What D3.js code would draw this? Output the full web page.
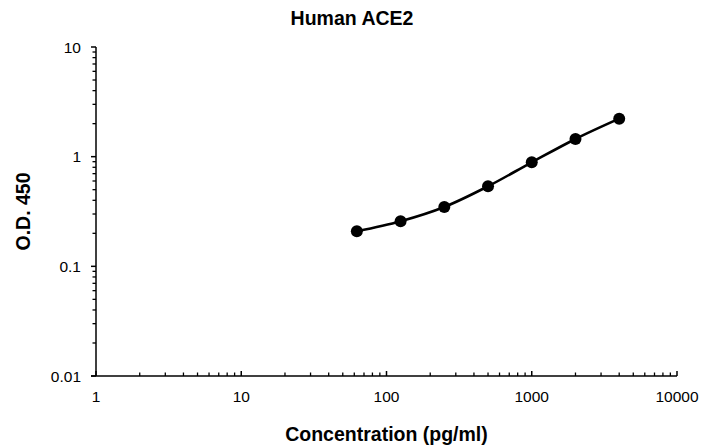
<!DOCTYPE html>
<html>
<head>
<meta charset="utf-8">
<script src="https://cdn.jsdelivr.net/npm/d3@7"></script>
<style>
    body { margin: 0; background: #fff; }
    text { font-family: "Liberation Sans", Arial, sans-serif; }
</style>
</head>
<body>
<svg id="chart" width="701" height="447"></svg>
<script>
// standard curve data
let concentrations = [62.5, 125, 250, 500, 1000, 2000, 4000];
let odValues = [0.209, 0.258, 0.348, 0.537, 0.889, 1.45, 2.22];
let xTickLabels = [1, 10, 100, 1000, 10000];
let yTickLabels = [0.01, 0.1, 1, 10];

let svg = d3.select('#chart');
let plot = {left: 96, right: 677, top: 47, bottom: 376};

let xScale = d3.scaleLog().domain([1, 10000]).range([plot.left, plot.right]);
let yScale = d3.scaleLog().domain([0.01, 10]).range([plot.bottom, plot.top]);

// minor ticks, 2..9 of every decade
let minorX = [], minorY = [];
for (let d = 1; d < 10000; d *= 10) {
    for (let k = 2; k <= 9; k++) minorX.push(d * k);
}
for (let d = 0.01; d < 9; d *= 10) {
    for (let k = 2; k <= 9; k++) minorY.push(+(d * k).toPrecision(3));
}

// x axis: ticks point up into the plot
let xAxis = svg.append('g').attr('id', 'xAxis');
xAxis.append('line')
    .attr('x1', plot.left - 5).attr('x2', plot.right)
    .attr('y1', plot.bottom).attr('y2', plot.bottom)
    .attr('stroke', '#000').attr('stroke-width', 1.5);
xAxis.selectAll('.minor').data(minorX).enter().append('line')
    .attr('x1', d => xScale(d)).attr('x2', d => xScale(d))
    .attr('y1', plot.bottom).attr('y2', plot.bottom - 3.5)
    .attr('stroke', '#000').attr('stroke-width', 1.3);
xAxis.selectAll('.major').data(xTickLabels).enter().append('line')
    .attr('x1', d => xScale(d)).attr('x2', d => xScale(d))
    .attr('y1', plot.bottom).attr('y2', plot.bottom - 5)
    .attr('stroke', '#000').attr('stroke-width', 1.5);
xAxis.selectAll('text').data(xTickLabels).enter().append('text')
    .attr('x', d => xScale(d))
    .attr('y', plot.bottom + 26)
    .attr('text-anchor', 'middle')
    .attr('font-size', 15.5)
    .text(d => d);

// y axis: ticks point left, out of the plot
let yAxis = svg.append('g').attr('id', 'yAxis');
yAxis.append('line')
    .attr('x1', plot.left).attr('x2', plot.left)
    .attr('y1', plot.top).attr('y2', plot.bottom)
    .attr('stroke', '#000').attr('stroke-width', 1.5);
yAxis.selectAll('.minor').data(minorY).enter().append('line')
    .attr('x1', plot.left).attr('x2', plot.left - 3.5)
    .attr('y1', d => yScale(d)).attr('y2', d => yScale(d))
    .attr('stroke', '#000').attr('stroke-width', 1.3);
yAxis.selectAll('.major').data(yTickLabels).enter().append('line')
    .attr('x1', plot.left).attr('x2', plot.left - 5)
    .attr('y1', d => yScale(d)).attr('y2', d => yScale(d))
    .attr('stroke', '#000').attr('stroke-width', 1.5);
yAxis.selectAll('text').data(yTickLabels).enter().append('text')
    .attr('x', plot.left - 15)
    .attr('y', d => yScale(d) + 5.5)
    .attr('text-anchor', 'end')
    .attr('font-size', 15.5)
    .text(d => d);

// smoothed line through the points
let line = d3.line()
    .x((d, i) => xScale(concentrations[i]))
    .y(d => yScale(d))
    .curve(d3.curveCatmullRom.alpha(0.5));
svg.append('path')
    .datum(odValues)
    .attr('d', line)
    .attr('fill', 'none')
    .attr('stroke', '#000')
    .attr('stroke-width', 2.6);

svg.selectAll('.dot').data(odValues).enter().append('circle')
    .attr('cx', (d, i) => xScale(concentrations[i]))
    .attr('cy', d => yScale(d))
    .attr('r', 6)
    .attr('fill', '#000');

// titles
svg.append('text')
    .attr('x', 352).attr('y', 25)
    .attr('text-anchor', 'middle')
    .attr('font-size', 19.5).attr('font-weight', 'bold')
    .text('Human ACE2');
svg.append('text')
    .attr('x', (plot.left + plot.right) / 2).attr('y', 441)
    .attr('text-anchor', 'middle')
    .attr('font-size', 19.5).attr('font-weight', 'bold')
    .text('Concentration (pg/ml)');
svg.append('text')
    .attr('transform', 'translate(30,' + ((plot.top + plot.bottom) / 2) + ') rotate(-90)')
    .attr('text-anchor', 'middle')
    .attr('font-size', 19.5).attr('font-weight', 'bold')
    .text('O.D. 450');
</script>
</body>
</html>
